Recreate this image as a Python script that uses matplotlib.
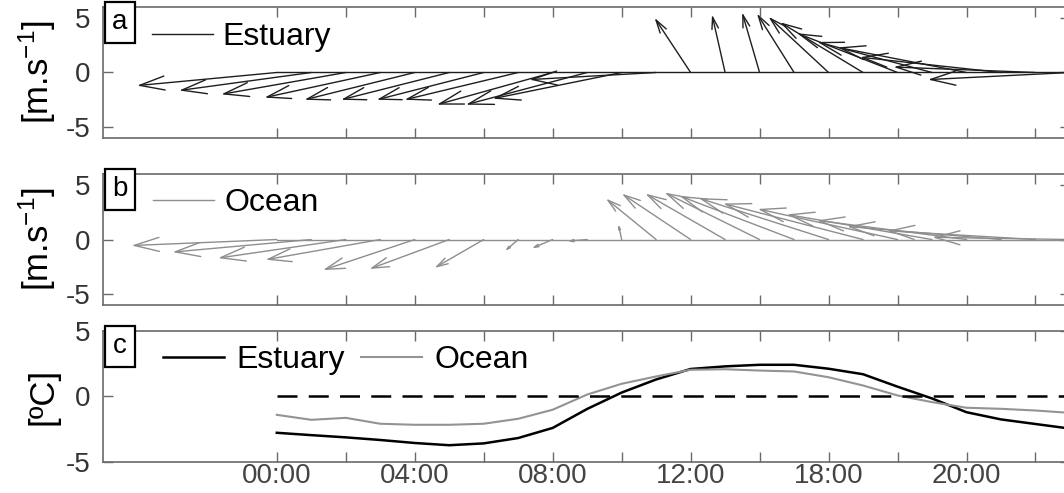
import numpy as np
import matplotlib
matplotlib.use("Agg")
import matplotlib.pyplot as plt
from matplotlib.patches import FancyArrowPatch

plt.rcParams['font.family'] = ['Liberation Sans', 'DejaVu Sans']
plt.rcParams['mathtext.default'] = 'regular'

# horas (cada vector / punto es horario)
horas = np.arange(24)

# viento estuario [m/s]
est_u = [-12.8, -12.1, -11.4, -10.6, -10.1, -9.9, -9.8, -10.4, -10.6, -11.1, -11.8, -11.6,
         -3.3, -1.2, -1.6, -3.4, -5.5, -7.6, -9.2, -10.5, -11.8, -12.9, -13.0, -13.0]
est_v = [-1.2, -1.65, -2.0, -2.3, -2.5, -2.5, -2.5, -2.5, -2.95, -2.95, -2.4, -0.65,
         5.0, 5.3, 5.5, 5.4, 5.1, 4.6, 3.6, 2.8, 2.3, 1.4, 0.5, -0.65]

# viento oceano [m/s]
oce_u = [-13.3, -12.7, -11.7, -10.5, -8.4, -7.3, -4.5, -1.2, -1.9, -1.8, -0.3, -4.6,
         -6.3, -7.3, -8.7, -10.5, -11.9, -12.8, -12.8, -13.3, -13.7, -14.1, -13.6, -12.6]
oce_v = [-0.55, -1.15, -1.7, -1.85, -2.8, -2.7, -2.6, -1.05, -0.8, -0.15, 1.4, 3.75,
         4.2, 4.2, 4.3, 4.0, 3.8, 3.3, 2.8, 2.3, 1.75, 1.2, 0.8, 0.2]

# anomalia de temperatura [C]
est_temp = [-2.77, -2.95, -3.12, -3.32, -3.55, -3.72, -3.58, -3.17, -2.4, -0.95, 0.3, 1.3,
            2.1, 2.3, 2.42, 2.42, 2.12, 1.7, 0.75, -0.15, -1.2, -1.75, -2.1, -2.45]
oce_temp = [-1.4, -1.78, -1.63, -2.08, -2.16, -2.16, -2.08, -1.7, -1.01, 0.15, 0.97, 1.53,
            2.04, 2.08, 1.98, 1.91, 1.47, 0.84, 0.08, -0.43, -0.86, -0.94, -1.07, -1.25]

xticks = np.arange(0, 23, 2)
xlabels = ['00:00', '', '04:00', '', '08:00', '', '12:00', '', '18:00', '', '20:00', '']

fig = plt.figure(figsize=(10.64, 4.93), dpi=100)
left, width, height = 0.0968, 0.9088, 0.2657
ax_a = fig.add_axes([left, 0.7201, width, height])
ax_b = fig.add_axes([left, 0.3813, width, height])
ax_c = fig.add_axes([left, 0.0629, width, height])

spine_col = '#6a6a6a'
for ax in (ax_a, ax_b, ax_c):
    ax.set_xlim(-5.04, 23)
    ax.set_xticks(xticks)
    for s in ax.spines.values():
        s.set_color(spine_col)
        s.set_linewidth(1.2)
    ax.tick_params(direction='in', length=7, width=1.0, color=spine_col,
                   top=True, right=True, labelsize=20)
    ax.tick_params(axis='y', pad=9, labelcolor='#333333')
    ax.tick_params(axis='x', pad=1, labelcolor='#444444')

for ax in (ax_a, ax_b):
    ax.set_ylim(-6, 6)
    ax.set_yticks([-5, 0, 5])
    ax.set_yticklabels(['-5', '0', '5'])
    ax.set_xticklabels([])
    ax.set_ylabel('[m.s$^{-1}$]', fontsize=25)
    ax.yaxis.set_label_coords(-0.047, 0.5)


def sticks(ax, t, u, v, color, lw, label):
    ax.plot(t, np.zeros(len(t)), color=color, lw=lw, label=label)
    p0 = ax.transData.transform((0, 0))
    p1 = ax.transData.transform((1, 1))
    px_y = p1[1] - p0[1]
    r = px_y / (p1[0] - p0[0])  # misma escala en pixeles para u y v
    for ti, ui, vi in zip(t, u, v):
        largo = np.hypot(ui, vi) * px_y * 72 / fig.dpi
        hl = min(0.2 * largo, 18)
        flecha = FancyArrowPatch((ti, 0), (ti + ui * r, vi),
                                 arrowstyle=f'->,head_length={hl:.2f},head_width={0.28 * hl:.2f}',
                                 mutation_scale=1, shrinkA=0, shrinkB=0,
                                 color=color, lw=lw)
        ax.add_patch(flecha)


sticks(ax_a, horas, est_u, est_v, '#1e1e1e', 1.0, 'Estuary')
sticks(ax_b, horas, oce_u, oce_v, '#8e8e8e', 1.0, 'Ocean')

ax_c.set_ylim(-5, 5)
ax_c.set_yticks([-5, 0, 5])
ax_c.set_yticklabels(['-5', '0', '5'])
ax_c.set_xticklabels(xlabels)
ax_c.plot(horas, est_temp, color='black', lw=1.8, label='Estuary')
ax_c.plot(horas, oce_temp, color='#939393', lw=1.5, label='Ocean')
ax_c.plot(horas, np.zeros(len(horas)), color='black', lw=1.8, ls=(0, (8, 4.5)))
ax_c.set_ylabel('[ºC]', fontsize=25)
ax_c.yaxis.set_label_coords(-0.045, 0.5)

# leyendas
ax_a.legend(loc='center left', bbox_to_anchor=(0.0507, 0.771), frameon=False,
            fontsize=23, handlelength=1.9, handletextpad=0.3,
            borderpad=0, borderaxespad=0)
ax_b.legend(loc='center left', bbox_to_anchor=(0.0517, 0.779), frameon=False,
            fontsize=23, handlelength=1.9, handletextpad=0.35,
            borderpad=0, borderaxespad=0)
ax_c.legend(loc='center left', bbox_to_anchor=(0.062, 0.779), frameon=False,
            fontsize=23, ncol=2, handlelength=1.9, handletextpad=0.4,
            columnspacing=0.5, borderpad=0, borderaxespad=0)

# etiquetas de panel
for ax, letra in ((ax_a, 'a'), (ax_b, 'b'), (ax_c, 'c')):
    ax.text(0.0176, 0.882, letra, transform=ax.transAxes, fontsize=20,
            ha='center', va='center',
            bbox=dict(boxstyle='square,pad=0.28', fc='white', ec='black', lw=1.6))

fig.savefig('out.png', dpi=100)
